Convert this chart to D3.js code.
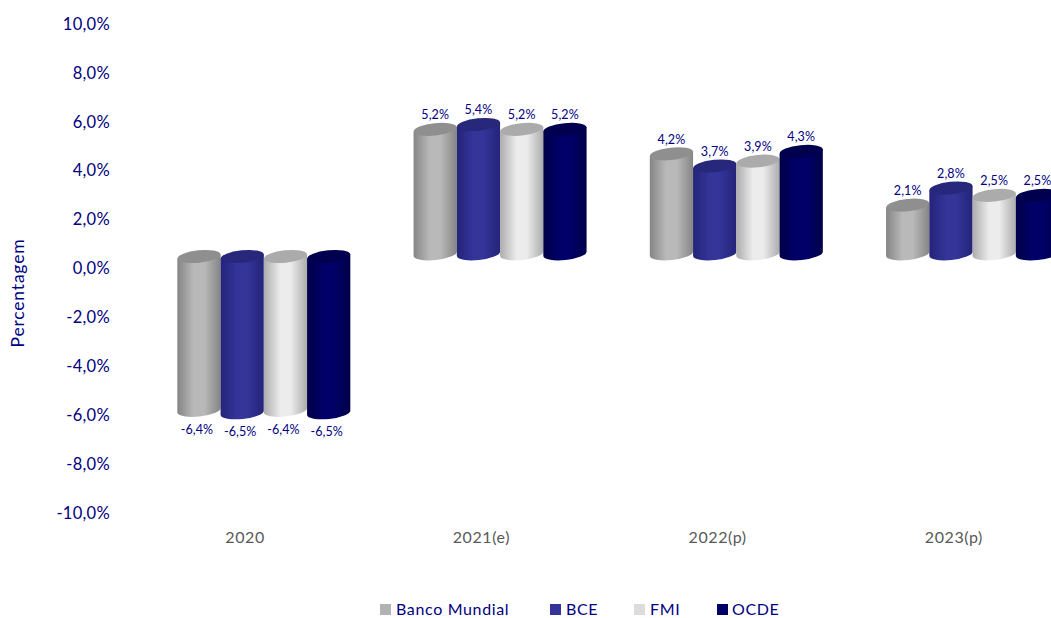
<!DOCTYPE html>
<html><head><meta charset="utf-8">
<style>html,body{margin:0;padding:0;background:#fff;overflow:hidden}svg{display:block}text{font-family:Lato,"Open Sans",sans-serif}</style>
<script src="https://cdn.jsdelivr.net/npm/d3@7/dist/d3.min.js"></script>
</head><body><svg id="c" width="1051" height="618"></svg>
<script>
const categories = ["2020","2021(e)","2022(p)","2023(p)"];
const seriesNames = ["Banco Mundial","BCE","FMI","OCDE"];
const bancoMundial = [-6.4,5.2,4.2,2.1];
const bce = [-6.5,5.4,3.7,2.8];
const fmi = [-6.4,5.2,3.9,2.5];
const ocde = [-6.5,5.2,4.3,2.5];
const yTicks = [10,8,6,4,2,0,-2,-4,-6,-8,-10];
const seriesValues = [bancoMundial,bce,fmi,ocde];
const palette = [
 {edge:"#858585",mid:"#b9b9b9",top:"#8f8f8f",key:"#b2b2b2"},
 {edge:"#24247a",mid:"#343499",top:"#27277c",key:"#333399"},
 {edge:"#acacac",mid:"#ececec",top:"#ababab",key:"#dcdcdc"},
 {edge:"#000048",mid:"#000068",top:"#00004f",key:"#000066"}];
const navy="#000080", W=1051, H=618;
const svg=d3.select("#c");
const y=d3.scaleLinear().domain([-10,10]).range([513,24]);
const x0=d3.scaleBand().domain(categories).range([127,1072]);
const depth={dx:18.7,dy:12};
const x1=d3.scaleBand().domain(seriesNames).range([0,173]);
const groupPad=(x0.bandwidth()-173)/2;
const rx=x1.bandwidth()/2, ry=6.2, rot=-6, tilt=rx*Math.sin(6*Math.PI/180);
const defs=svg.append("defs");
palette.forEach((p,i)=>{
 const g=defs.append("linearGradient").attr("id","g"+i);
 [[0,p.edge],[.38,p.mid],[.62,p.mid],[1,p.edge]].forEach(s=>g.append("stop").attr("offset",s[0]).attr("stop-color",s[1]));
});
// y axis
const ya=svg.append("g").attr("transform","translate(112,0)").call(d3.axisLeft(y).tickValues(yTicks).tickSize(0).tickPadding(2).tickFormat(d=>d3.format(".1f")(d).replace(".",",").replace("−","-")+"%"));
ya.select(".domain").remove();
ya.selectAll("text").attr("fill",navy).style("font-size","16.5px").style("letter-spacing","0.3px").style("font-family","Lato,sans-serif");
svg.append("text").attr("transform","translate(24,293) rotate(-90)").attr("text-anchor","middle").attr("fill",navy).style("font-size","17.5px").style("letter-spacing","0.8px").text("Percentagem");
// x axis
const xa=svg.append("g").attr("transform","translate(0,537)").call(d3.axisBottom(x0).tickSize(0).tickPadding(0));
xa.select(".domain").remove();
xa.selectAll("text").attr("fill","#595959").attr("dy","0.35em").attr("y",0).style("font-size","16px").style("letter-spacing","0.6px").style("font-family","Lato,sans-serif");
// bars
const base=y(0)-depth.dy;
const footLift=2.7;
categories.forEach((c,ci)=>{
 seriesNames.forEach((s,si)=>{
  const v=seriesValues[si][ci];
  const xa0=x0(c)+groupPad+depth.dx+x1(s), xb=xa0+x1.bandwidth(), cx=(xa0+xb)/2;
  const vy=y(v)-depth.dy;
  const t=Math.min(base,vy), b=Math.max(base,vy)-footLift;
  const g=svg.append("g");
  g.append("path").attr("fill",`url(#g${si})`)
   .attr("d",`M${xa0},${t+tilt}L${xa0},${b+tilt}A${rx},${ry} ${rot} 0 0 ${xb},${b-tilt}L${xb},${t-tilt}Z`);
  g.append("ellipse").attr("cx",cx).attr("cy",t).attr("rx",rx).attr("ry",ry).attr("fill",palette[si].top)
   .attr("transform",`rotate(${rot} ${cx} ${t})`);
  svg.append("text").attr("x",cx-(v<0?2:0)).attr("y",v<0?vy+16.5:vy-14.5).attr("dy","0.35em").attr("text-anchor","middle")
   .attr("fill",navy).style("font-size","12.5px").style("letter-spacing","0.1px").text(d3.format(".1f")(v).replace(".",",").replace("−","-")+"%");
 });
});
// legend
const legendGaps=[0,170,254,337];
const lg=svg.append("g").attr("transform","translate(380,604)");
seriesNames.forEach((s,i)=>{
 lg.append("rect").attr("x",legendGaps[i]).attr("y",0).attr("width",11).attr("height",11).attr("fill",palette[i].key);
 lg.append("text").attr("x",legendGaps[i]+(i==3?15:16)).attr("y",5).attr("dy","0.35em").attr("fill",navy).style("font-size","16px").style("letter-spacing","0.65px").text(s);
});
</script></body></html>
